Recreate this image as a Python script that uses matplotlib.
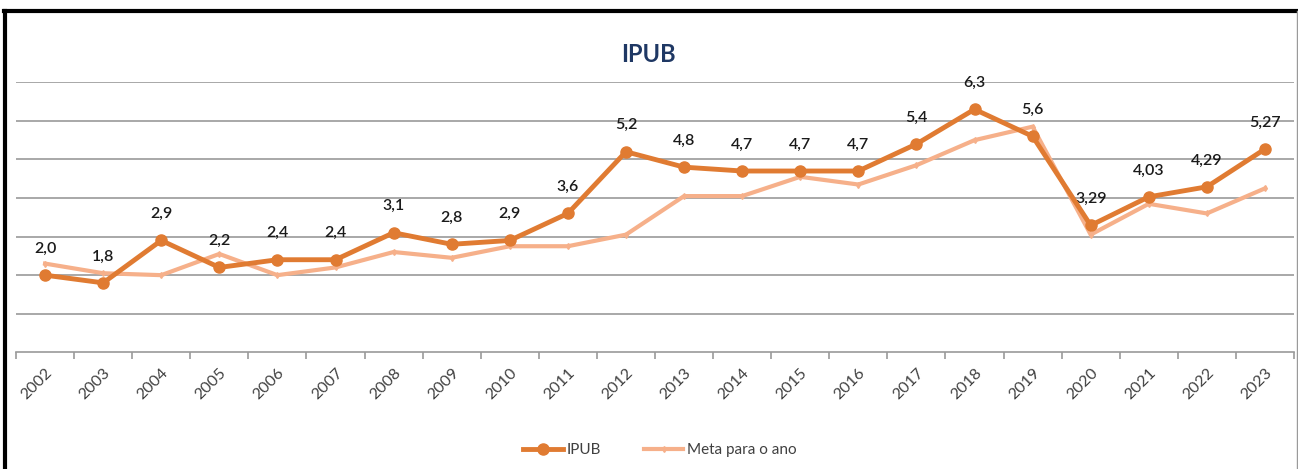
import numpy as np
import matplotlib.pyplot as plt
from matplotlib.lines import Line2D

plt.rcParams['font.family'] = ['Lato', 'DejaVu Sans']

anos = [str(a) for a in range(2002, 2024)]
ipub = [2.0, 1.8, 2.9, 2.2, 2.4, 2.4, 3.1, 2.8, 2.9, 3.6, 5.2, 4.8, 4.7, 4.7, 4.7,
        5.4, 6.3, 5.6, 3.29, 4.03, 4.29, 5.27]
ipub_rotulos = ["2,0", "1,8", "2,9", "2,2", "2,4", "2,4", "3,1", "2,8", "2,9", "3,6",
                "5,2", "4,8", "4,7", "4,7", "4,7", "5,4", "6,3", "5,6", "3,29", "4,03",
                "4,29", "5,27"]
meta = [2.3, 2.05, 2.0, 2.55, 2.0, 2.2, 2.6, 2.45, 2.75, 2.75, 3.05, 4.05, 4.05, 4.55,
        4.35, 4.85, 5.5, 5.85, 3.05, 3.85, 3.6, 4.25]

cor_ipub = '#E07B32'
cor_meta = '#F6B08A'

fig = plt.figure(figsize=(12.98, 4.69), dpi=100)
ax = fig.add_axes([16/1298, 1 - 352.3/469, (1294 - 16)/1298, (352.3 - 82.3)/469])

x = np.arange(len(anos))
ax.plot(x, meta, color=cor_meta, lw=3, marker='d', ms=3, zorder=3)
ax.plot(x, ipub, color=cor_ipub, lw=3.5, marker='o', ms=8, zorder=4)

for xi, v, r in zip(x, ipub, ipub_rotulos):
    ax.annotate(r, (xi, v), xytext=(0, 19), textcoords='offset points',
                ha='center', va='center', fontsize=11.5, fontweight='semibold',
                color='#1a1a1a')

ax.set_xlim(-0.5, len(anos) - 0.5)
ax.set_ylim(0, 7)
ax.set_yticks(range(1, 8))
ax.yaxis.grid(True, color='#9a9a9a', lw=1.2)
ax.set_axisbelow(True)
ax.tick_params(axis='y', left=False, labelleft=False)
for s in ['left', 'right', 'top']:
    ax.spines[s].set_visible(False)
ax.spines['bottom'].set_color('#9a9a9a')
ax.spines['bottom'].set_linewidth(1.2)

ax.set_xticks(x)
ax.set_xticklabels(anos, rotation=45, ha='right', rotation_mode='anchor',
                   fontsize=11.5, color='#404040')
ax.tick_params(axis='x', which='major', length=0, pad=10)
ax.set_xticks(np.arange(-0.5, len(anos), 1), minor=True)
ax.tick_params(axis='x', which='minor', length=5, color='#9a9a9a', width=1.2)

fig.text(648/1298, 1 - 55/469, 'IPUB', ha='center', va='center', fontsize=17,
         fontweight='bold', color='#1F3864')

handles = [Line2D([], [], color=cor_ipub, lw=3.5, marker='o', ms=8),
           Line2D([], [], color=cor_meta, lw=3, marker='d', ms=3)]
fig.legend(handles, ['IPUB', 'Meta para o ano'], loc='center',
           bbox_to_anchor=(660/1298, 1 - 450/469), ncol=2, frameon=False,
           fontsize=11, handlelength=2.6, columnspacing=2.8, handletextpad=0.25,
           labelcolor='#404040')

# moldura
fig.add_artist(Line2D([5/1298, 5/1298], [0, 1 - 11/469], color='black', lw=3,
                      transform=fig.transFigure))
fig.add_artist(Line2D([4/1298, 1297/1298], [1 - 11/469, 1 - 11/469], color='black', lw=3,
                      transform=fig.transFigure))
fig.add_artist(Line2D([1297/1298, 1297/1298], [0, 1 - 11/469], color='#9a9a9a', lw=1,
                      transform=fig.transFigure))

fig.savefig('out.png', dpi=100)
